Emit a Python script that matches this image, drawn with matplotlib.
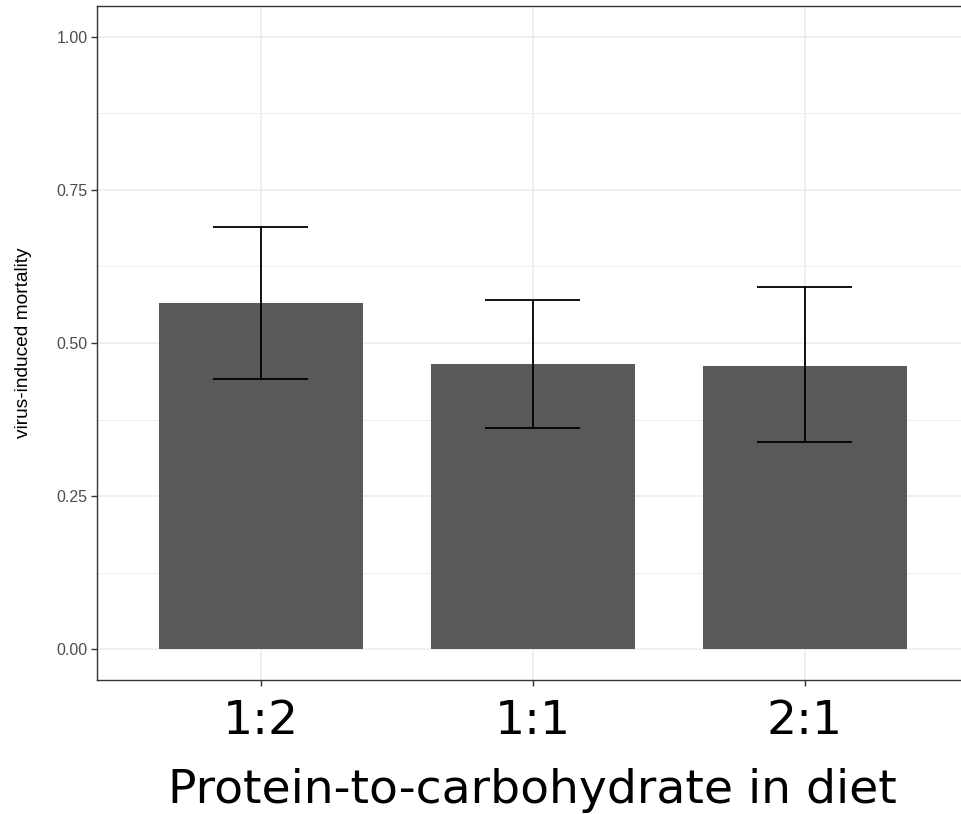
import matplotlib
matplotlib.use("Agg")
import matplotlib.pyplot as plt
import numpy as np

# datos
dietas = ["1:2", "1:1", "2:1"]
mortalidad = [0.565, 0.466, 0.463]
error_inf = [0.441, 0.361, 0.339]
error_sup = [0.689, 0.571, 0.591]

fig = plt.figure(figsize=(9.61, 8.14), dpi=100)
ax = fig.add_axes([0.1013, 0.1646, 0.9057, 0.8280])

x = np.arange(1, len(dietas) + 1)
ax.bar(x, mortalidad, width=0.75, color="#595959", zorder=2)
ax.vlines(x, error_inf, error_sup, color="black", linewidth=1.3, zorder=3)
ax.hlines(error_inf, x - 0.173, x + 0.173, color="black", linewidth=1.3, zorder=3)
ax.hlines(error_sup, x - 0.173, x + 0.173, color="black", linewidth=1.3, zorder=3)

ax.set_xlim(0.4, 3.6)
ax.set_ylim(-0.05, 1.05)
ax.set_xticks(x)
ax.set_xticklabels(dietas, fontsize=34, family="DejaVu Sans")
ax.set_yticks([0, 0.25, 0.5, 0.75, 1.0])
ax.set_yticklabels(["0.00", "0.25", "0.50", "0.75", "1.00"], fontsize=11.5,
                   color="#4D4D4D", family="Liberation Sans")
ax.set_yticks([0.125, 0.375, 0.625, 0.875], minor=True)

ax.grid(True, which="major", color="#EBEBEB", linewidth=1.1, zorder=0)
ax.grid(True, which="minor", axis="y", color="#EBEBEB", linewidth=0.6, zorder=0)
ax.set_axisbelow(True)
ax.tick_params(axis="both", which="major", length=4, color="#333333", width=1)
ax.tick_params(axis="y", which="minor", length=0)
ax.tick_params(axis="y", pad=3)
ax.tick_params(axis="x", pad=10)
for s in ax.spines.values():
    s.set_color("#333333")
    s.set_linewidth(1)

ax.set_ylabel("virus-induced mortality", fontsize=13.8, family="Liberation Sans", labelpad=18)
ax.set_xlabel("Protein-to-carbohydrate in diet", fontsize=34, family="DejaVu Sans", labelpad=17)

fig.savefig("out.png", dpi=100)
